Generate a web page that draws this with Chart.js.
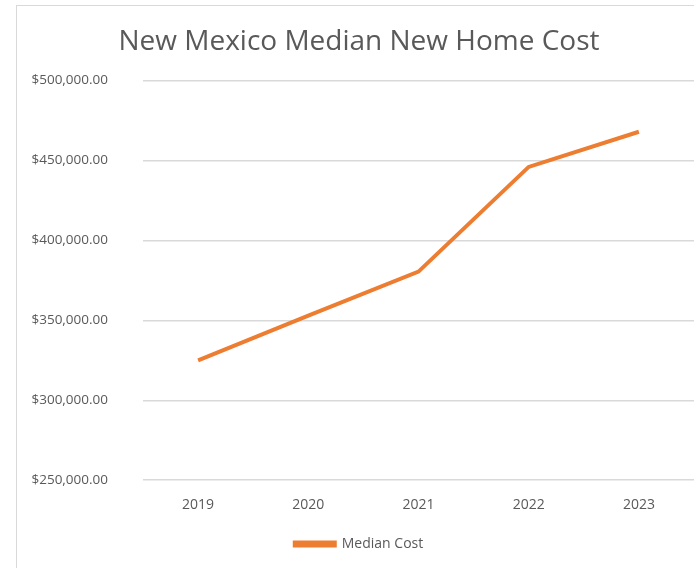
<!DOCTYPE html>
<html>
<head>
<meta charset="utf-8">
<script src="https://cdn.jsdelivr.net/npm/chart.js@4.4.1/dist/chart.umd.min.js"></script>
<style>
    html, body { margin: 0; padding: 0; background: #fff; }
    #frame {
        position: absolute; left: 16px; top: 5px; width: 700px; height: 600px;
        border-left: 1px solid #d9d9d9; border-top: 1px solid #d9d9d9;
    }
    #wrap { position: absolute; left: 0; top: 0; width: 694px; height: 568px; }
</style>
</head>
<body>
<div id="frame"></div>
<div id="wrap"><canvas id="myChart"></canvas></div>
<script>
// datos
const years = ['2019', '2020', '2021', '2022', '2023'];
const medianCost = [325000, 353000, 380500, 446000, 468000];
const yTicks = [250000, 300000, 350000, 400000, 450000, 500000];

document.addEventListener('DOMContentLoaded', () => {
    const gray = '#595959';
    const ctx = document.getElementById('myChart').getContext('2d');

    new Chart(ctx, {
        type: 'line',
        data: {
            labels: years,
            datasets: [{
                label: 'Median Cost',
                data: medianCost,
                borderColor: '#ED7D31',
                backgroundColor: '#ED7D31',
                borderWidth: 4,
                pointRadius: 0,
                tension: 0
            }]
        },
        options: {
            responsive: true,
            maintainAspectRatio: false,
            animation: false,
            // padding izquierdo para centrar un poco más título y leyenda
            layout: { padding: { top: 25, right: 0, bottom: 7, left: 24 } },
            plugins: {
                title: {
                    display: true,
                    text: 'New Mexico Median New Home Cost',
                    color: gray,
                    font: { family: 'Open Sans', size: 28, weight: 'normal' },
                    padding: { top: 0, bottom: 22 }
                },
                legend: {
                    position: 'bottom',
                    labels: {
                        color: gray,
                        font: { family: 'Open Sans', size: 14 },
                        boxWidth: 40,
                        boxHeight: 3,
                        padding: 16
                    }
                },
                tooltip: { enabled: false }
            },
            scales: {
                x: {
                    offset: true,
                    grid: { display: false },
                    border: { display: false },
                    ticks: { color: gray, font: { family: 'Open Sans', size: 14 }, padding: 8 }
                },
                y: {
                    min: 250000,
                    max: 500000,
                    afterBuildTicks: (scale) => { scale.ticks = yTicks.map(v => ({ value: v })); },
                    afterFit: (scale) => { scale.width = 119; },
                    grid: { color: '#d9d9d9', lineWidth: 1.5, drawTicks: false },
                    border: { display: false },
                    ticks: {
                        color: gray,
                        font: { family: 'Open Sans', size: 13.5 },
                        padding: 35,
                        callback: v => '$' + v.toLocaleString('en-US', { minimumFractionDigits: 2 })
                    }
                }
            }
        }
    });
});
</script>
</body>
</html>
